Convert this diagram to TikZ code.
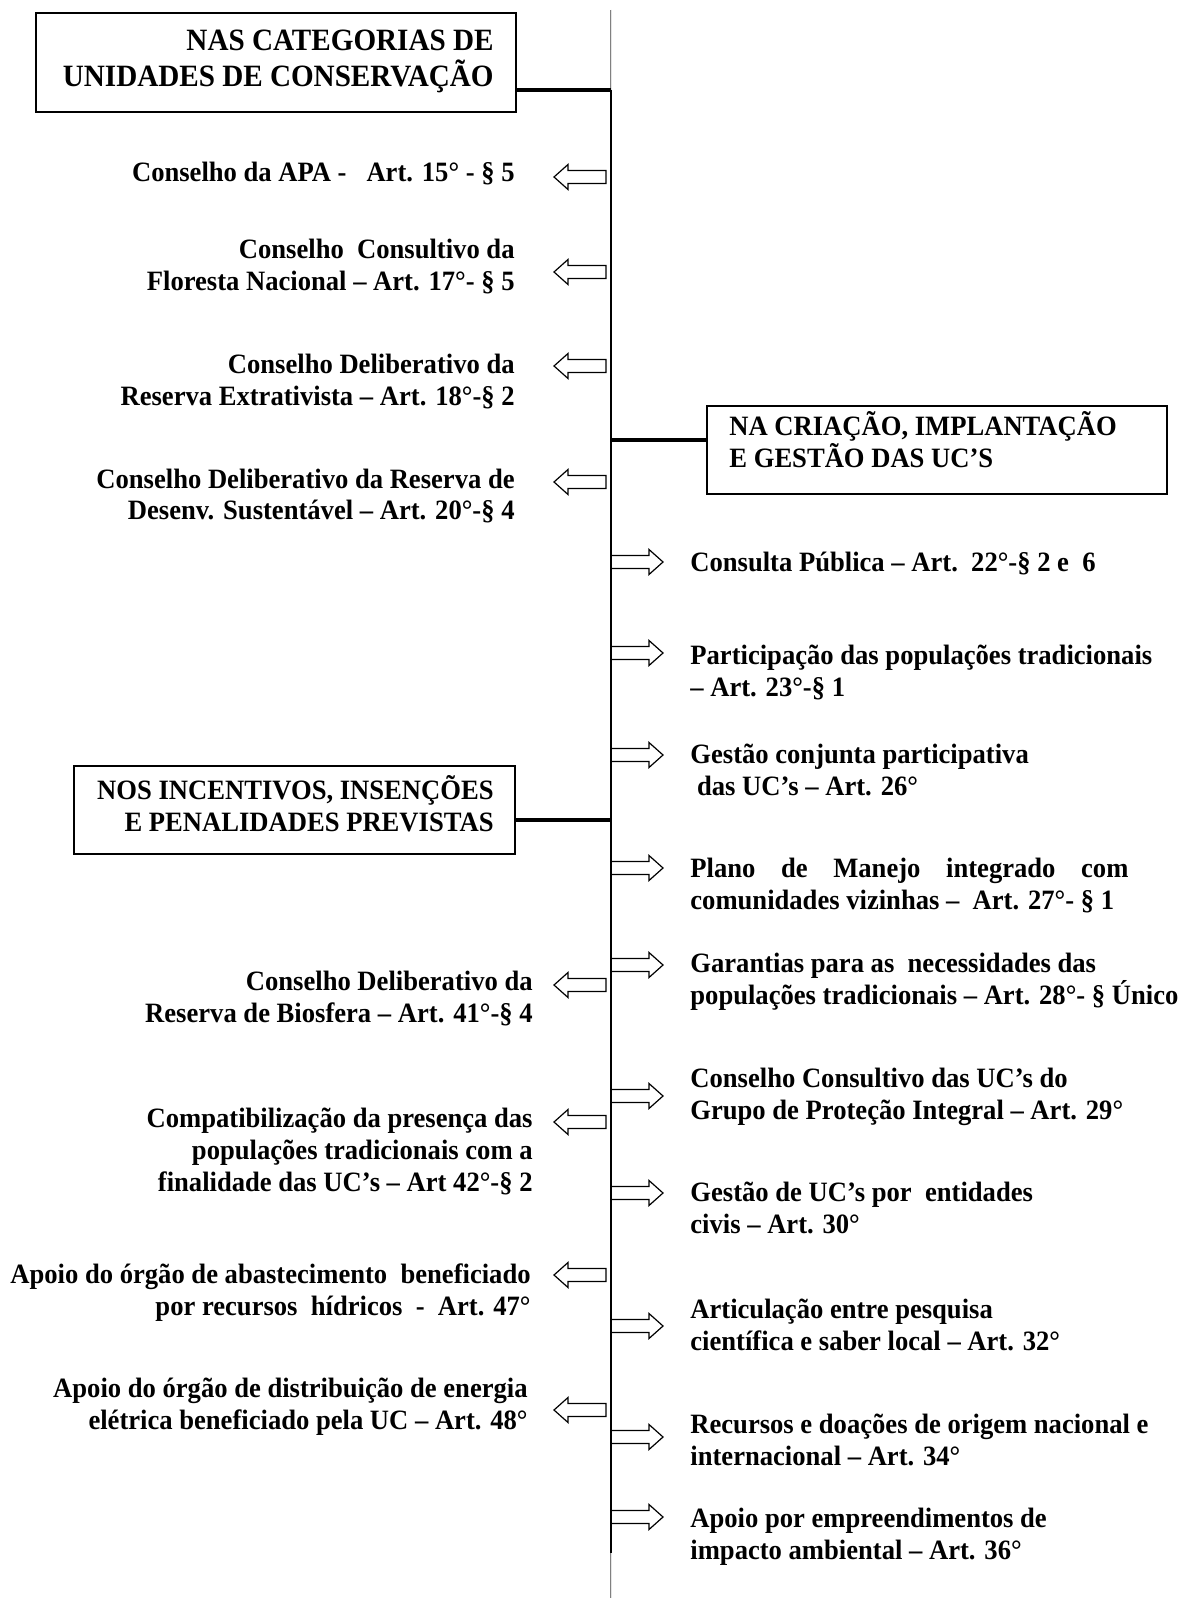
\documentclass[tikz,border=0pt]{standalone}
\usepackage{fontspec}
\setmainfont{Liberation Serif}
\newfontfamily\bodyfam[FakeStretch=0.95]{Liberation Serif}
\newfontfamily\hdrfam[FakeStretch=0.94]{Liberation Serif}
\begin{document}
\begin{tikzpicture}[x=0.5pt,y=-0.5pt,
  bodytxt/.style={font=\bodyfam\bfseries\fontsize{14}{16}\selectfont, inner sep=0pt},
  ltxt/.style={bodytxt, align=right, anchor=base east},
  rtxt/.style={bodytxt, align=left, anchor=base west},
  hdrbig/.style={font=\hdrfam\bfseries\fontsize{15.5}{17.75}\selectfont, inner sep=0pt, align=right, anchor=base east},
  hdrl/.style={bodytxt, align=left, anchor=base west},
  hdrr/.style={bodytxt, align=right, anchor=base east},
  framebox/.style={draw, line width=0.85pt, inner sep=0pt},
  arrowline/.style={line width=0.6pt, line join=miter},
  spine/.style={line width=1.35pt},
  ghost/.style={draw=gray, line width=0.3pt, double=gray!20, double distance=0.5pt},
  link/.style={line width=1.6pt},
  pics/rblock/.style={code={\draw[arrowline] (0,-6.5) -- (38,-6.5) -- (38,-12.5) -- (52,0) -- (38,12.5) -- (38,6.5) -- (0,6.5) -- cycle;}},
  pics/lblock/.style={code={\draw[arrowline] (0,-6.5) -- (-38,-6.5) -- (-38,-12.5) -- (-52,0) -- (-38,12.5) -- (-38,6.5) -- (0,6.5) -- cycle;}},
]
\useasboundingbox (0,0) rectangle (1183,1598);

% spine
\coordinate (sTop) at (611,10);
\coordinate (sJ1) at (611,90);
\coordinate (sJ2) at (611,440);
\coordinate (sJ3) at (611,820);
\coordinate (sBot) at (611,1553);
\coordinate (sEnd) at (611,1598);
\draw[ghost] (sTop) -- (sJ1);
\draw[spine] (sJ1) -- (sBot);
\draw[ghost] (sBot) -- (sEnd);

% header boxes
\node[framebox, minimum width=240pt, minimum height=49.5pt] (box1) at (276,62.5) {};
\node[framebox, minimum width=230pt, minimum height=44pt] (box2) at (937,450) {};
\node[framebox, minimum width=220.5pt, minimum height=44pt] (box3) at (294.5,810) {};
\node[hdrbig] (h1) at (494,86.5) {NAS CATEGORIAS DE\\UNIDADES DE CONSERVAÇÃO};
\node[hdrl] (h2) at (729,468) {NA CRIAÇÃO, IMPLANTAÇÃO\\E GESTÃO DAS UC’S};
\node[hdrr] (h3) at (494,831) {NOS INCENTIVOS, INSENÇÕES\\E PENALIDADES PREVISTAS};
\draw[link] (box1.east |- sJ1) -- (sJ1);
\draw[link] (sJ2) -- (box2.west |- sJ2);
\draw[link] (box3.east |- sJ3) -- (sJ3);

% left arrows
\pic (la1) at (606,177) {lblock};
\pic (la2) at (606,272) {lblock};
\pic (la3) at (606,366) {lblock};
\pic (la4) at (606,482) {lblock};
\pic (la5) at (606,985) {lblock};
\pic (la6) at (606,1122) {lblock};
\pic (la7) at (606,1275) {lblock};
\pic (la8) at (606,1410) {lblock};

% right arrows
\pic (ra1) at (611,562) {rblock};
\pic (ra2) at (611,653) {rblock};
\pic (ra3) at (611,755) {rblock};
\pic (ra4) at (611,868) {rblock};
\pic (ra5) at (611,965) {rblock};
\pic (ra6) at (611,1096) {rblock};
\pic (ra7) at (611,1193) {rblock};
\pic (ra8) at (611,1326) {rblock};
\pic (ra9) at (611,1437) {rblock};
\pic (ra10) at (611,1517) {rblock};

% left texts (anchor = baseline of last line)
\node[ltxt] (lt1) at (515,182) {Conselho da APA -\ \ \ Art. 15° - § 5};
\node[ltxt] (lt2) at (515,291) {Conselho\ \ Consultivo da\\Floresta Nacional – Art. 17°- § 5};
\node[ltxt] (lt3) at (515,406) {Conselho Deliberativo da\\Reserva Extrativista – Art. 18°-§ 2};
\node[ltxt] (lt4) at (515,520) {Conselho Deliberativo da Reserva de\\Desenv. Sustentável – Art. 20°-§ 4};
\node[ltxt] (lt5) at (533,1022) {Conselho Deliberativo da\\Reserva de Biosfera – Art. 41°-§ 4};
\node[ltxt] (lt6) at (533,1191) {Compatibilização da presença das\\populações tradicionais com a\\finalidade das UC’s – Art 42°-§ 2};
\node[ltxt] (lt7) at (531,1315) {Apoio do órgão de abastecimento\ \ beneficiado\\por recursos\ \ hídricos\ \ -\ \ Art. 47°};
\node[ltxt] (lt8) at (528,1429) {Apoio do órgão de distribuição de energia\\elétrica beneficiado pela UC – Art. 48°};

% right texts
\node[rtxt] (rt1) at (690,571) {Consulta Pública – Art.\ \ 22°-§ 2 e\ \ 6};
\node[rtxt] (rt2) at (690,696) {Participação das populações tradicionais\\– Art. 23°-§ 1};
\node[rtxt] (rt3) at (690,795) {Gestão conjunta participativa\\\ das UC’s – Art. 26°};
\node[rtxt] (rt4) at (690,909) {\makebox[219pt][s]{Plano de Manejo integrado com}\\comunidades vizinhas –\ \ Art. 27°- § 1};
\node[rtxt] (rt5) at (690,1004) {Garantias para as\ \ necessidades das\\populações tradicionais – Art. 28°- § Único};
\node[rtxt] (rt6) at (690,1119) {Conselho Consultivo das UC’s do\\Grupo de Proteção Integral – Art. 29°};
\node[rtxt] (rt7) at (690,1233) {Gestão de UC’s por\ \ entidades\\civis – Art. 30°};
\node[rtxt] (rt8) at (690,1350) {Articulação entre pesquisa\\científica e saber local – Art. 32°};
\node[rtxt] (rt9) at (690,1465) {Recursos e doações de origem nacional e\\internacional – Art. 34°};
\node[rtxt] (rt10) at (690,1559) {Apoio por empreendimentos de\\impacto ambiental – Art. 36°};
\end{tikzpicture}
\end{document}
